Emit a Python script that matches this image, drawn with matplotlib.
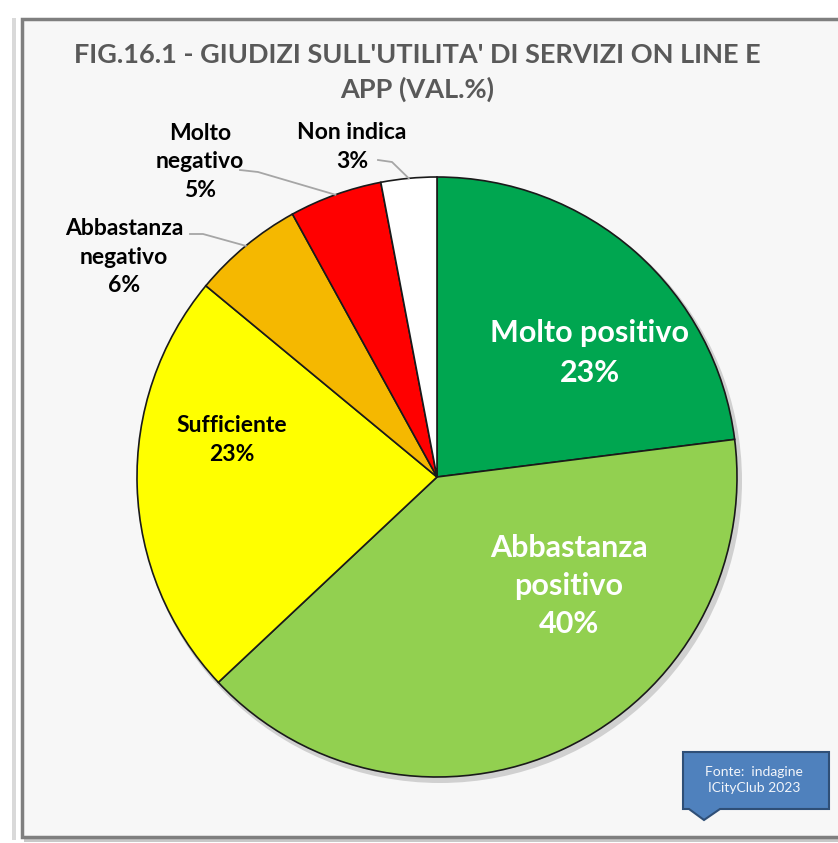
import matplotlib.pyplot as plt
from matplotlib.patches import Rectangle, Polygon, Circle
import numpy as np

# dati del grafico
categories = ['Molto positivo', 'Abbastanza positivo', 'Sufficiente',
              'Abbastanza negativo', 'Molto negativo', 'Non indica']
label_text = ['Molto positivo', 'Abbastanza\npositivo', 'Sufficiente',
              'Abbastanza\nnegativo', 'Molto\nnegativo', 'Non indica']
values = [23, 40, 23, 6, 5, 3]
colors = ['#00A650', '#92D050', '#FFFF00', '#F5B800', '#FF0000', '#FFFFFF']
text_colors = ['white', 'white', 'black', 'black', 'black', 'black']

W, H = 838, 843
fig = plt.figure(figsize=(W / 100, H / 100), dpi=100)
fig.patch.set_facecolor('white')
ax = fig.add_axes([0, 0, 1, 1])
ax.set_xlim(0, W)
ax.set_ylim(0, H)
ax.axis('off')


def Y(y):
    # coordinate pixel dall'alto
    return H - y


# cornice del pannello
ax.add_patch(Rectangle((12, Y(840)), 4, 822, facecolor='#d9d9d9', edgecolor='none', zorder=0))
ax.add_patch(Rectangle((24, Y(842)), 860, 822, facecolor='#c8c8c8', edgecolor='none', zorder=0))
ax.add_patch(Rectangle((22, Y(837)), 860, 818, facecolor='#f7f7f7', edgecolor='#7f7f7f',
                       linewidth=2.5, zorder=1))

# titolo
ax.text(417, Y(55), "FIG.16.1 - GIUDIZI SULL'UTILITA' DI SERVIZI ON LINE E",
        ha='center', va='center', fontsize=19.5, fontweight='bold', color='#595959',
        family='Lato', zorder=5)
ax.text(417, Y(89), "APP (VAL.%)", ha='center', va='center', fontsize=19.5,
        fontweight='bold', color='#595959', family='Lato', zorder=5)

cx, cy, R = 437, Y(477), 300

# ombra della torta
ax.add_patch(Circle((cx + 3, cy - 4), R + 2, facecolor='#d0d0d0', edgecolor='none', zorder=2))

wedges, _ = ax.pie(values, colors=colors, startangle=90, counterclock=False,
                   center=(cx, cy), radius=R,
                   wedgeprops=dict(edgecolor='#1a1a1a', linewidth=1.2))
for w in wedges:
    w.set_zorder(3)
ax.set_xlim(0, W)
ax.set_ylim(0, H)
ax.set_aspect('equal')

# posizioni etichette (pixel)
label_pos = [(590, 353), (569, 586), (232, 440), (124, 257), (200, 162), (352, 147)]
label_size = [22, 22, 16.5, 16.5, 16.5, 16.5]
label_ls = [1.5, 1.45, 1.45, 1.45, 1.45, 1.45]
for i, (x, y) in enumerate(label_pos):
    ax.text(x, Y(y), f"{label_text[i]}\n{values[i]}%", ha='center', va='center',
            fontsize=label_size[i], fontweight='bold', color=text_colors[i],
            family='Lato', linespacing=label_ls[i], zorder=6)

# linee guida per le fette piccole
leader_start = {3: [(190, 234), (203, 234)], 4: [(240, 170), (258, 172)],
                5: [(378, 160), (392, 162)]}
for i, pts in leader_start.items():
    w = wedges[i]
    mid = np.deg2rad((w.theta1 + w.theta2) / 2)
    ex, ey = cx + R * np.cos(mid), cy + R * np.sin(mid)
    xs = [p[0] for p in pts] + [ex]
    ys = [Y(p[1]) for p in pts] + [ey]
    ax.plot(xs, ys, color='#a6a6a6', linewidth=1.3, zorder=4)

# riquadro fonte
box = Polygon([(683, Y(752)), (829, Y(752)), (829, Y(809)), (720, Y(809)),
               (704, Y(820)), (689, Y(809)), (683, Y(809))],
              closed=True, facecolor='#4F81BD', edgecolor='#2F4F77', linewidth=1.5, zorder=5)
ax.add_patch(box)
ax.text(754, Y(780), "Fonte:  indagine\nICityClub 2023", ha='center', va='center',
        fontsize=10, color='#f2f5fa', family='Lato', linespacing=1.3, zorder=6)

fig.savefig('out.png', dpi=100)
